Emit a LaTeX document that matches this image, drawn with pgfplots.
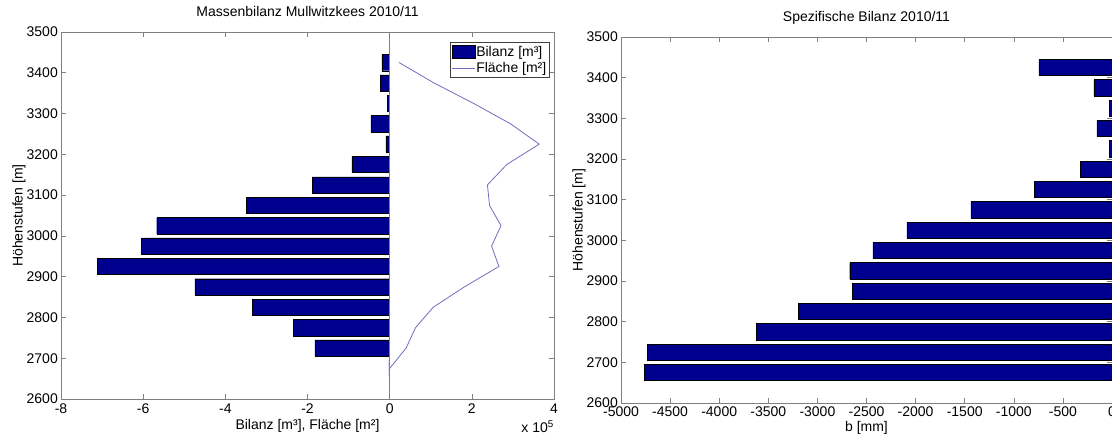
\documentclass[border=0pt]{standalone}
\usepackage{fontspec}
\setmainfont{Liberation Sans}
\usepackage{pgfplots}
\pgfplotsset{compat=1.18}
\definecolor{barblue}{rgb}{0,0,0.5625}
\definecolor{linecol}{RGB}{110,110,190}
\definecolor{axgray}{RGB}{128,128,128}
\newcommand{\ff}{\fontsize{14}{16}\selectfont}
\pgfplotsset{
  mystyle/.style={
    scale only axis,
    axis line style={axgray, line width=0.8pt},
    tick style={axgray, line width=0.6pt},
    major tick length=5pt,
    tick align=inside,
    xtick pos=both, ytick pos=both,
    ticklabel style={font=\ff, text=black},
    label style={font=\ff},
    title style={font=\ff, at={(0.5,1)}, anchor=base, yshift=9pt},
    ylabel style={at={(0,0.5)}, anchor=center, yshift=42pt},
    yticklabel style={anchor=east, inner sep=0pt, xshift=-3pt},
    /pgf/number format/assume math mode=true,
    /pgf/number format/1000 sep={},
    ymin=2600, ymax=3500, ytick={2600,2700,...,3500},
    ylabel={Höhenstufen [m]},
  },
  mybar/.style={xbar, bar width=40, bar shift=0pt, fill=barblue, draw=black, line width=0.4pt},
}
\begin{document}
\begin{tikzpicture}
\useasboundingbox (0pt,0pt) rectangle (1112pt,436pt);
\clip (0pt,0pt) rectangle (1112pt,436pt);
\begin{axis}[mystyle, name=L,
  at={(61pt,37pt)}, anchor=south west, width=493pt, height=367pt,
  xmin=-8, xmax=4, xtick={-8,-6,...,4},
  xticklabel style={anchor=base, yshift=-14.7pt},
  title={Massenbilanz Mullwitzkees 2010/11},
  xlabel={Bilanz [m³], Fläche [m²]},
  xlabel style={at={(0.5,0)}, anchor=base, yshift=-31pt},
  legend style={at={(1,1)}, anchor=north east, xshift=-5pt, yshift=-10pt,
    draw=black!75, font=\ff, inner xsep=2pt, inner ysep=3pt, row sep=3.5pt,
    nodes={inner sep=0.5pt}},
  legend cell align=left,
]
\addplot[mybar, legend image code/.code={\draw[fill=barblue, draw=black] (0pt,-6pt) rectangle (23pt,6.5pt);}] coordinates {
(-0.19,3425) (-0.23,3375) (-0.06,3325) (-0.46,3275) (-0.09,3225) (-0.92,3175)
(-1.89,3125) (-3.49,3075) (-5.67,3025) (-6.04,2975) (-7.12,2925) (-4.74,2875)
(-3.34,2825) (-2.35,2775) (-1.82,2725) (-0.02,2675)
};
\addlegendentry{Bilanz [m³]}
\addplot[linecol, line width=0.8pt, legend image code/.code={\draw[linecol, line width=0.8pt] (0pt,0pt) -- (23pt,0pt);}] coordinates {
(0.23,3425) (1.08,3375) (2.04,3325) (2.94,3275) (3.64,3225) (2.85,3175)
(2.38,3125) (2.43,3075) (2.71,3025) (2.48,2975) (2.66,2925) (1.82,2875)
(1.06,2825) (0.63,2775) (0.40,2725) (0.00,2675)
};
\addlegendentry{Fläche [m²]}
\draw[axgray, line width=0.8pt] (axis cs:0,2600) -- (axis cs:0,3500);
\end{axis}
\node[anchor=base east, font=\ff, inner sep=0pt] at ([yshift=-34pt]L.south east) {x 10\textsuperscript{5}};
\begin{axis}[mystyle,
  at={(621pt,33pt)}, anchor=south west, width=491pt, height=366pt,
  xmin=-5000, xmax=0, xtick={-5000,-4500,...,0},
  xticklabel style={anchor=base, yshift=-14pt},
  title={Spezifische Bilanz 2010/11},
  xlabel={b [mm]},
  xlabel style={at={(0.5,0)}, anchor=base, yshift=-29pt},
]
\addplot[mybar] coordinates {
(-745,3425) (-185,3375) (-30,3325) (-155,3275) (-27,3225) (-322,3175)
(-790,3125) (-1437,3075) (-2090,3025) (-2434,2975) (-2671,2925) (-2642,2875)
(-3194,2825) (-3625,2775) (-4730,2725) (-4762,2675)
};
\end{axis}
\end{tikzpicture}
\end{document}
